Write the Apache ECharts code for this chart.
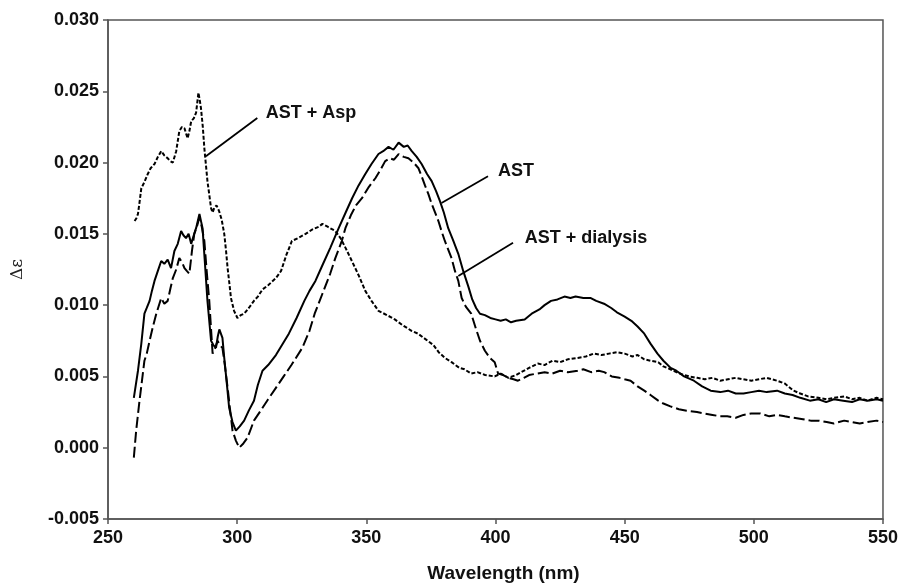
<!DOCTYPE html>
<html>
<head>
<meta charset="utf-8">
<script src="https://cdn.jsdelivr.net/npm/echarts@6/dist/echarts.min.js"></script>
<style>
html,body{margin:0;padding:0;background:#fff;}
#chart{width:901px;height:588px;}
</style>
</head>
<body>
<div id="chart"></div>
<script>
// ---- Data (wavelength nm, delta epsilon) ----
const astX = [260,261.6,262.9,264.1,265,266.1,267,268,269.3,270.6,271.8,273.1,274.4,275.7,277,278.3,279.2,280.2,281.2,282.2,283.2,284.1,285.4,286.6,287.5,288.5,289.9,290.8,291.8,292.5,293.1,294.3,295,296,296.9,298.2,299.5,301,302.7,304.5,306.5,308,309.8,312,315,318,320,323,326,328,330.3,333,336,339.3,342,344.5,347,349.6,352,354.7,356.5,358.6,360.5,362.5,364.5,366,367.6,369.5,371.4,373.5,375.3,377,378.5,380,381.7,383.5,385.6,387.5,389.5,391,392.5,394,395.9,398,400,402,404,406,408,411.3,414,417,419,421.5,424,426.7,429,431,434,436.9,439,442,444.8,447,450,452.6,455,457.6,460,462.7,465,467.8,470,473,476.8,480,483.3,487,490,493,496,499,502,505,509,512,515,518,521.7,525,528,531,534.6,538,541,544,547.6,550];
const astY = [0.0035,0.0054,0.0073,0.0094,0.0098,0.0103,0.0110,0.0117,0.0124,0.0131,0.0129,0.0132,0.0126,0.0138,0.0143,0.0152,0.0149,0.0147,0.0150,0.0143,0.0149,0.0154,0.0164,0.0154,0.0130,0.0103,0.0075,0.0072,0.0070,0.0078,0.0083,0.0077,0.0063,0.0045,0.0028,0.0018,0.0012,0.0015,0.0019,0.0026,0.0033,0.0044,0.0054,0.0058,0.0065,0.0074,0.0080,0.0091,0.0103,0.0110,0.0117,0.0128,0.0140,0.0154,0.0165,0.0175,0.0184,0.0192,0.0199,0.0206,0.0208,0.0211,0.0209,0.0214,0.0211,0.0212,0.0208,0.0204,0.0199,0.0192,0.0187,0.0180,0.0173,0.0165,0.0154,0.0146,0.0136,0.0124,0.0113,0.0104,0.0098,0.0094,0.0093,0.0091,0.0090,0.0089,0.0090,0.0088,0.0089,0.0090,0.0094,0.0097,0.0100,0.0103,0.0104,0.0106,0.0105,0.0106,0.0105,0.0105,0.0103,0.0101,0.0098,0.0095,0.0092,0.0089,0.0085,0.0080,0.0073,0.0066,0.0061,0.0056,0.0054,0.0050,0.0047,0.0043,0.0040,0.0039,0.0040,0.0038,0.0038,0.0039,0.0040,0.0039,0.0040,0.0038,0.0037,0.0035,0.0033,0.0034,0.0032,0.0034,0.0033,0.0032,0.0034,0.0033,0.0034,0.0033];

const dialX = [260,260.9,262.2,264.1,265,266.1,267.4,268.7,270.6,271.8,273.1,274.2,275.1,276.4,277.6,278.7,279.6,280.5,281.5,282.5,283.4,284.4,285.3,286.3,287.3,288.2,289.2,290.5,291.5,292.4,293.3,294.3,295.3,296.3,297.3,298.2,299.5,300.8,302.4,304,306.5,309.1,312,315,318,321,325.2,328,330,333,336,338,340.5,341.9,344,346,348.3,351,353.5,355.5,357.3,359,360.7,362.5,364.5,366.3,368.3,370.2,371.5,372.7,374,375.3,376.6,377.9,379.1,380.4,381.7,383,384.3,385.6,386.9,388.5,390.6,392.5,394,395.9,397.8,399.7,401,403,405,407,408.7,411,413,416,419,422,425,428,431.8,434,437,440,442.1,445,448,450,452.3,455,457.6,460,463,465,467.7,471,474,478,481,484,487,489.7,493,496,499,502.5,506,509,512,515.4,519,522,525,528.2,531,535,538,541,544,547.5,550];
const dialY = [-0.0007,0.0012,0.0033,0.0061,0.0066,0.0075,0.0085,0.0094,0.0105,0.0101,0.0103,0.0112,0.0119,0.0125,0.0133,0.0130,0.0126,0.0124,0.0122,0.0138,0.0150,0.0155,0.0161,0.0155,0.0145,0.0124,0.0103,0.0066,0.0070,0.0075,0.0072,0.0070,0.0057,0.0042,0.0026,0.0012,0.0005,0.0000,0.0003,0.0007,0.0019,0.0026,0.0034,0.0042,0.0050,0.0058,0.0070,0.0082,0.0094,0.0108,0.0122,0.0133,0.0145,0.0154,0.0163,0.0170,0.0175,0.0183,0.0189,0.0195,0.0201,0.0203,0.0202,0.0206,0.0204,0.0203,0.0200,0.0196,0.0190,0.0184,0.0178,0.0171,0.0165,0.0159,0.0152,0.0145,0.0139,0.0133,0.0124,0.0117,0.0105,0.0099,0.0094,0.0083,0.0075,0.0068,0.0063,0.0060,0.0052,0.0051,0.0049,0.0048,0.0047,0.0049,0.0051,0.0052,0.0053,0.0052,0.0054,0.0053,0.0054,0.0055,0.0053,0.0054,0.0053,0.0050,0.0049,0.0048,0.0047,0.0043,0.0040,0.0037,0.0033,0.0031,0.0029,0.0027,0.0026,0.0025,0.0024,0.0023,0.0022,0.0022,0.0021,0.0023,0.0024,0.0024,0.0022,0.0023,0.0022,0.0021,0.0020,0.0019,0.0019,0.0018,0.0017,0.0019,0.0018,0.0017,0.0018,0.0019,0.0018];

const aspX = [260.3,261,261.6,262.2,262.9,264,265.4,266.5,268,269.3,270.6,271.8,273.1,274.1,275.1,276.4,277.6,278.6,279.6,280.8,281.5,282.2,283.2,284.1,285,285.5,286,286.7,287.3,288.5,289.9,290.5,291.1,292,293,294,295,295.7,296.3,297,297.6,298.8,300.1,301.4,302.7,304.5,306.5,308,309.8,312,315,317,319,321.2,323.5,326.5,329,331.6,333,335,338,340,342,344.4,347,349.6,352,354.7,358,361,364,367.5,370,373,376,378,380.4,383,386,388,390.6,393,396,399.7,402,405,408,410,413,416.4,419,422,425,428,431.8,435,438,441,444,447.2,450,453,455,457.6,460,463,465,467.7,470,473,475,478.1,481,484,487,490,493,496,499,502,505,509,512,515.4,518,521,525,528.2,531,535,538,541,544,547.5,550];
const aspY = [0.0159,0.0161,0.0164,0.0172,0.0182,0.0186,0.0192,0.0196,0.0199,0.0204,0.0208,0.0205,0.0203,0.0201,0.0200,0.0208,0.0222,0.0225,0.0224,0.0217,0.0222,0.0229,0.0231,0.0235,0.0249,0.0244,0.0238,0.0225,0.0210,0.0187,0.0168,0.0165,0.0168,0.0170,0.0166,0.0160,0.0150,0.0138,0.0126,0.0115,0.0105,0.0096,0.0091,0.0093,0.0094,0.0098,0.0103,0.0106,0.0111,0.0114,0.0119,0.0124,0.0135,0.0145,0.0147,0.0150,0.0153,0.0155,0.0157,0.0155,0.0152,0.0147,0.0140,0.0131,0.0121,0.0110,0.0103,0.0096,0.0093,0.0090,0.0086,0.0082,0.0080,0.0076,0.0072,0.0067,0.0063,0.0060,0.0056,0.0055,0.0052,0.0053,0.0051,0.0050,0.0052,0.0049,0.0051,0.0053,0.0056,0.0059,0.0058,0.0061,0.0060,0.0062,0.0063,0.0064,0.0066,0.0065,0.0066,0.0067,0.0066,0.0064,0.0065,0.0062,0.0061,0.0060,0.0057,0.0055,0.0053,0.0051,0.0050,0.0049,0.0048,0.0049,0.0047,0.0048,0.0049,0.0048,0.0047,0.0048,0.0049,0.0047,0.0045,0.0040,0.0038,0.0036,0.0035,0.0034,0.0035,0.0036,0.0034,0.0035,0.0033,0.0035,0.0034];

// Annotations (data coordinates)
const annoLabels = ['AST + Asp', 'AST', 'AST + dialysis'];
const annoTextX  = [311.1, 401.0, 411.3];
const annoTextY  = [0.02347, 0.01939, 0.01472];
const leaderX1   = [307.8, 397.1, 406.8];
const leaderY1   = [0.02312, 0.01904, 0.01437];
const leaderX2   = [287.9, 379.1, 385.6];
const leaderY2   = [0.02044, 0.01717, 0.01204];

// Axis settings
const xMin = 250, xMax = 550, xStep = 50;
const yMin = -0.005, yMax = 0.030, yStep = 0.005;
const xTitle = 'Wavelength (nm)';
const yTitle = 'Δε';

function pairs(xs, ys){ return xs.map((x,i)=>[x, ys[i]]); }

const axisCol = '#555';
const FONT = 'Liberation Sans, Arial, sans-serif';

const chart = echarts.init(document.getElementById('chart'), null, {renderer:'canvas'});
const option = {
  animation: false,
  backgroundColor: '#fff',
  grid: {left:108, right:15, top:20, bottom:69, show:true, borderColor:axisCol, borderWidth:1.5, backgroundColor:'transparent'},
  xAxis: {
    type:'value', min:xMin, max:xMax, interval:xStep,
    name:xTitle, nameLocation:'middle', nameGap:45,
    nameTextStyle:{fontFamily:FONT, fontWeight:'bold', fontSize:19, color:'#111', padding:[0,0,0,16]},
    axisLine:{show:true, onZero:false, lineStyle:{color:axisCol, width:1.5}},
    axisTick:{show:true, length:5, lineStyle:{color:axisCol, width:1.5}},
    axisLabel:{fontFamily:FONT, fontWeight:'bold', fontSize:18, color:'#111', margin:10},
    splitLine:{show:false}
  },
  yAxis: {
    type:'value', min:yMin, max:yMax, interval:yStep,
    name:yTitle, nameLocation:'middle', nameGap:82, nameRotate:90,
    nameTextStyle:{fontFamily:'DejaVu Serif, Liberation Serif, serif', fontSize:17, color:'#222'},
    axisLine:{show:true, onZero:false, lineStyle:{color:axisCol, width:1.5}},
    axisTick:{show:true, length:5, lineStyle:{color:axisCol, width:1.5}},
    axisLabel:{fontFamily:FONT, fontWeight:'bold', fontSize:18, color:'#111', margin:9,
      formatter:(v)=>v.toFixed(3)},
    splitLine:{show:false}
  },
  series: [
    {name:'AST', type:'line', data:pairs(astX, astY), showSymbol:false, symbol:'none',
      lineStyle:{color:'#000', width:2}},
    {name:'AST + dialysis', type:'line', data:pairs(dialX, dialY), showSymbol:false, symbol:'none',
      lineStyle:{color:'#000', width:2, type:[11,4]}},
    {name:'AST + Asp', type:'line', data:pairs(aspX, aspY), showSymbol:false, symbol:'none',
      lineStyle:{color:'#000', width:2, type:[4,2]}}
  ]
};
chart.setOption(option);

const g = [];
for (let i=0;i<annoLabels.length;i++){
  const t = chart.convertToPixel({gridIndex:0}, [annoTextX[i], annoTextY[i]]);
  const a = chart.convertToPixel({gridIndex:0}, [leaderX1[i], leaderY1[i]]);
  const b = chart.convertToPixel({gridIndex:0}, [leaderX2[i], leaderY2[i]]);
  g.push({type:'line', shape:{x1:a[0], y1:a[1], x2:b[0], y2:b[1]}, style:{stroke:'#000', lineWidth:1.8}});
  g.push({type:'text', x:t[0], y:t[1], style:{text:annoLabels[i], fill:'#111', font:'bold 18px ' + FONT, textAlign:'left', textVerticalAlign:'middle'}});
}
chart.setOption({graphic:g});
</script>
</body>
</html>
